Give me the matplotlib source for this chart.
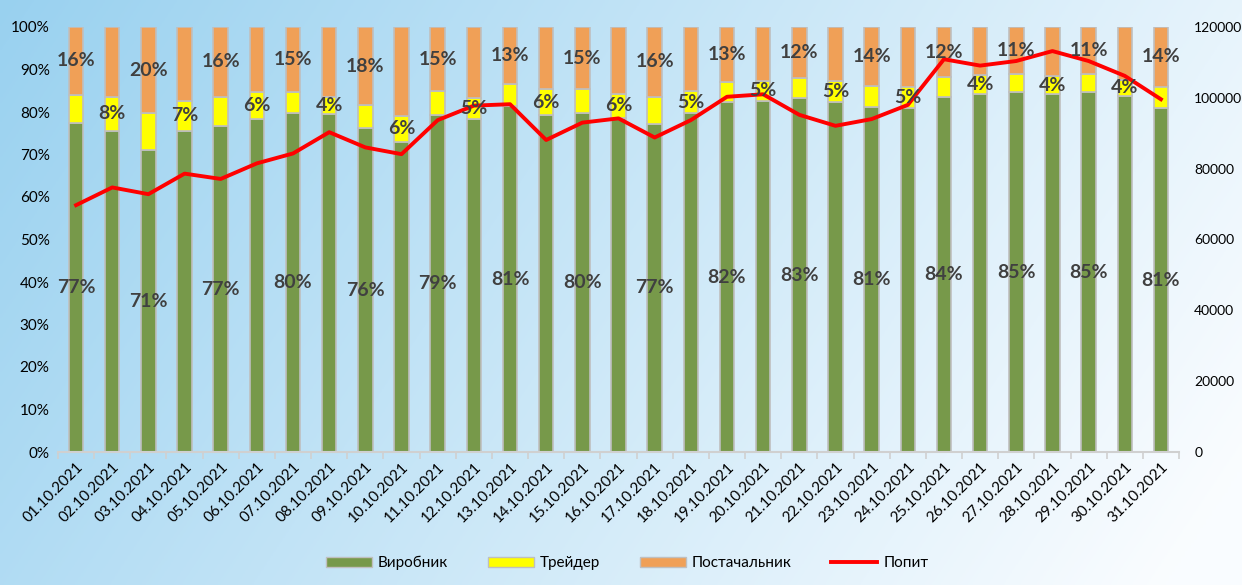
import numpy as np
import matplotlib
matplotlib.use('Agg')
import matplotlib.pyplot as plt
from matplotlib.patches import Patch
from matplotlib.lines import Line2D

plt.rcParams['font.family'] = ['Lato', 'DejaVu Sans']

dates = ['%02d.10.2021' % d for d in range(1, 32)]

# shares, %
vyrobnyk = [77.3, 75.5, 71.0, 75.5, 76.6, 78.3, 79.8, 79.5, 76.2, 73.0,
            79.3, 78.4, 81.4, 79.3, 79.7, 78.7, 77.2, 79.7, 82.3, 82.6,
            83.2, 82.3, 81.1, 80.9, 83.6, 84.2, 84.6, 84.2, 84.6, 83.8, 80.9]
treider = [6.7, 8.1, 8.7, 7.2, 7.0, 6.3, 4.8, 4.1, 5.4, 6.0,
           5.6, 4.8, 5.3, 6.0, 5.6, 5.6, 6.4, 5.2, 4.8, 4.7,
           4.9, 5.1, 5.1, 5.1, 4.6, 4.4, 4.3, 4.3, 4.3, 3.7, 5.1]
postach = [16.0, 16.4, 20.3, 17.3, 16.4, 15.4, 15.4, 16.4, 18.4, 21.0,
           15.1, 16.8, 13.3, 14.7, 14.7, 15.7, 16.4, 15.1, 12.9, 12.7,
           11.9, 12.6, 13.8, 14.0, 11.8, 11.4, 11.1, 11.5, 11.1, 12.5, 14.0]
# demand
popyt = [69700, 74700, 72800, 78600, 77100, 81500, 84300, 90300, 86000, 84100,
         93700, 97800, 98200, 88100, 93000, 94200, 88800, 93700, 100300, 101000,
         95200, 92100, 94000, 98000, 110900, 109100, 110400, 113200, 110400, 106200, 99600]

c_green = '#77994A'
c_yellow = '#FFFF00'
c_orange = '#F0A057'
c_edge = '#BFBFBF'
c_text = '#404040'

fig = plt.figure(figsize=(12.42, 5.85), dpi=100)

# background gradient
bg = fig.add_axes([0, 0, 1, 1], zorder=-10)
gx, gy = np.meshgrid(np.linspace(0, 1, 400), np.linspace(0, 1, 200))
t = np.clip(0.8 * gx + 0.25 * gy, 0, 1)
c0 = np.array([0.60, 0.82, 0.94])
c1 = np.array([0.98, 0.99, 1.0])
img = c0[None, None, :] * (1 - t[..., None]) + c1[None, None, :] * t[..., None]
bg.imshow(img, aspect='auto', extent=[0, 1, 0, 1], origin='upper')
bg.axis('off')

ax = fig.add_axes([58 / 1242, 1 - 452 / 585, (1179 - 58) / 1242, (452 - 27) / 585])
ax.patch.set_alpha(0)
x = np.arange(len(dates))
w = 0.4
g = np.array(vyrobnyk)
y = np.array(treider)
o = np.array(postach)
ax.bar(x, g, w, color=c_green, edgecolor=c_edge, linewidth=1.2)
ax.bar(x, y, w, bottom=g, color=c_yellow, edgecolor=c_edge, linewidth=1.2)
ax.bar(x, o, w, bottom=g + y, color=c_orange, edgecolor=c_edge, linewidth=1.2)

ax.set_xlim(-0.5, len(dates) - 0.5)
ax.set_ylim(0, 100)
ax.set_yticks(range(0, 101, 10))
ax.set_yticklabels(['%d%%' % v for v in range(0, 101, 10)], fontsize=11)
ax.set_xticks(x)
ax.set_xticklabels(dates, rotation=45, ha='right', rotation_mode='anchor', fontsize=11)
ax.set_xticks(np.arange(-0.5, len(dates), 1), minor=True)
ax.tick_params(axis='x', which='major', length=0, pad=6)
ax.tick_params(axis='x', which='minor', length=5, color='#D0D0D0', width=1.2)
ax.tick_params(axis='y', length=0, pad=6)
for s in ['top', 'left', 'right']:
    ax.spines[s].set_visible(False)
ax.spines['bottom'].set_color('#D0D0D0')
ax.spines['bottom'].set_linewidth(1.5)

ax2 = ax.twinx()
ax2.patch.set_alpha(0)
ax2.plot(x, popyt, color='#FF0000', linewidth=2.8, zorder=3)
ax2.set_ylim(0, 120000)
ax2.set_yticks(range(0, 120001, 20000))
ax2.set_yticklabels([str(v) for v in range(0, 120001, 20000)], fontsize=10)
ax2.tick_params(axis='y', length=0, pad=11)
for s in ['top', 'left', 'right', 'bottom']:
    ax2.spines[s].set_visible(False)

# data labels: green & orange on odd days, yellow on even days
for i in range(len(dates)):
    if i % 2 == 0:
        ax2.text(i, g[i] / 2, '%.0f%%' % g[i], transform=ax.transData, ha='center', va='center',
                 fontsize=14, fontweight='bold', color=c_text, zorder=5)
        ax2.text(i, g[i] + y[i] + o[i] / 2, '%.0f%%' % o[i], transform=ax.transData, ha='center',
                 va='center', fontsize=14, fontweight='bold', color=c_text, zorder=5)
    else:
        ax2.text(i, g[i] + y[i] / 2, '%.0f%%' % y[i], transform=ax.transData, ha='center', va='center',
                 fontsize=14, fontweight='bold', color=c_text, zorder=5)

handles = [Patch(facecolor=c_green, edgecolor=c_edge),
           Patch(facecolor=c_yellow, edgecolor=c_edge),
           Patch(facecolor=c_orange, edgecolor=c_edge),
           Line2D([], [], color='#FF0000', linewidth=2.8)]
fig.legend(handles, ['Виробник', 'Трейдер', 'Постачальник', 'Попит'], loc='center',
           bbox_to_anchor=(0.505, 1 - 563 / 585), ncol=4, frameon=False, fontsize=11,
           handlelength=3.0, handleheight=0.6, columnspacing=2.6, handletextpad=0.4)

fig.savefig('out.png', dpi=100)
